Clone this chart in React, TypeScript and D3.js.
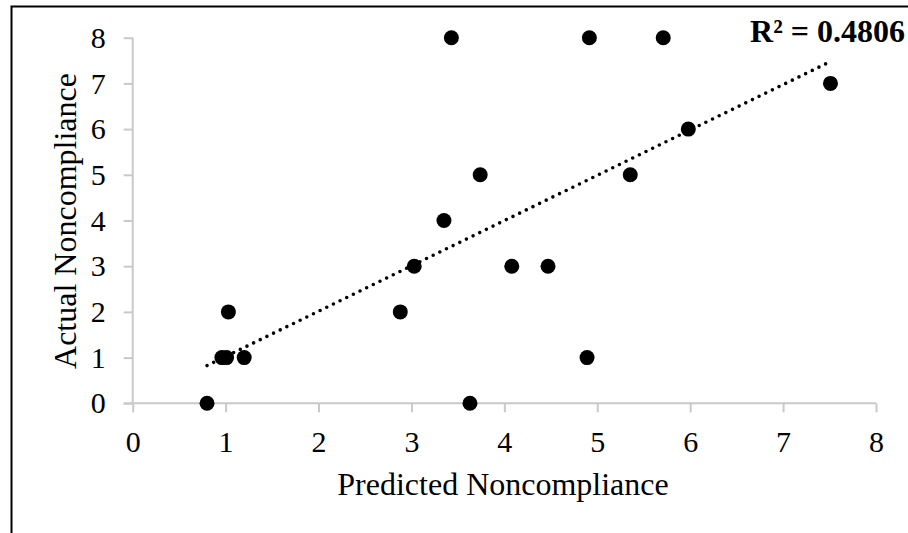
import React, { useEffect, useRef } from 'react';
import * as d3 from 'd3';

const predicted = [0.8, 0.96, 1.01, 1.2, 1.03, 2.88, 3.03, 3.35, 3.43, 3.74, 3.63, 4.08, 4.47, 4.89, 4.915, 5.355, 5.71, 5.98, 7.51];
const actual = [0, 1, 1, 1, 2, 2, 3, 4, 8, 5, 0, 3, 3, 1, 8, 5, 8, 6, 7];
const xTicks = [0, 1, 2, 3, 4, 5, 6, 7, 8];
const yTicks = [0, 1, 2, 3, 4, 5, 6, 7, 8];
const r2Label = 'R² = 0.4806';

export default function App() {
  const ref = useRef<SVGSVGElement>(null);

  useEffect(() => {
    const width = 908;
    const height = 533;
    const font = '"Liberation Serif", "Times New Roman", serif';
    const axisColor = '#c9c9c9';

    const svg = d3.select(ref.current);
    svg.selectAll('*').remove();

    const x = d3.scaleLinear().domain([0, 8]).range([132.7, 876]);
    const y = d3.scaleLinear().domain([0, 8]).range([403.3, 37.7]);

    // outer frame (cut off at right and bottom)
    svg.append('rect')
      .attr('x', 11.5).attr('y', 6.5)
      .attr('width', width + 50).attr('height', height + 50)
      .attr('fill', 'white').attr('stroke', '#000').attr('stroke-width', 2);

    // y axis
    const yAxis = svg.append('g').attr('transform', `translate(${x(0)},0)`)
      .call(d3.axisLeft(y).tickValues(yTicks).tickSize(9).tickPadding(18).tickFormat(d3.format('d')));
    yAxis.select('.domain').attr('stroke', axisColor).attr('stroke-width', 2).attr('d', `M0,${y(8)}V${y(0)}`);
    yAxis.selectAll('.tick line').attr('stroke', axisColor).attr('stroke-width', 2);
    yAxis.selectAll('.tick text').attr('font-family', font).attr('fill', '#000');

    // x axis
    const xAxis = svg.append('g').attr('transform', `translate(0,${y(0)})`)
      .call(d3.axisBottom(x).tickValues(xTicks).tickSize(9).tickPadding(18).tickFormat(d3.format('d')));
    xAxis.select('.domain').attr('stroke', axisColor).attr('stroke-width', 2).attr('d', `M${x(0) - 9},0H${x(8)}`);
    xAxis.selectAll('.tick line').attr('stroke', axisColor).attr('stroke-width', 2);
    xAxis.selectAll('.tick text').attr('font-family', font).attr('fill', '#000').attr('dy', '0.71em');
    svg.selectAll('.domain').attr('fill', 'none');
    svg.selectAll('.tick text').attr('font-size', 30);

    // linear trendline (least squares fit of the points)
    const pts = predicted.map((p, i) => [p, actual[i]] as [number, number]);
    const mx = d3.mean(pts, (d) => d[0]) as number;
    const my = d3.mean(pts, (d) => d[1]) as number;
    const sxy = d3.sum(pts, (d) => (d[0] - mx) * (d[1] - my));
    const sxx = d3.sum(pts, (d) => (d[0] - mx) ** 2);
    const slope = sxy / sxx;
    const icpt = my - slope * mx;
    const [x0, x1] = d3.extent(predicted) as [number, number];
    svg.append('path')
      .attr('d', d3.line()([[x(x0), y(icpt + slope * x0)], [x(x1), y(icpt + slope * x1)]]))
      .attr('fill', 'none').attr('stroke', '#000').attr('stroke-width', 3.6)
      .attr('stroke-linecap', 'round').attr('stroke-dasharray', '0 7.4');

    // points
    svg.append('g').selectAll('circle').data(pts).enter().append('circle')
      .attr('cx', (d) => x(d[0])).attr('cy', (d) => y(d[1])).attr('r', 7.5).attr('fill', '#000');

    // titles
    svg.append('text').attr('x', 503).attr('y', 495).attr('text-anchor', 'middle')
      .attr('font-family', font).attr('font-size', 32).text('Predicted Noncompliance');
    svg.append('text').attr('transform', 'translate(76,221) rotate(-90)').attr('text-anchor', 'middle')
      .attr('font-family', font).attr('font-size', 32).text('Actual Noncompliance');
    svg.append('text').attr('x', 905).attr('y', 41.7).attr('text-anchor', 'end')
      .attr('font-family', font).attr('font-size', 32).attr('font-weight', 'bold').text(r2Label);
  }, []);

  return (
    <svg ref={ref} width={908} height={533} style={{ position: 'absolute', left: 0, top: 0, background: '#fff' }} />
  );
}
